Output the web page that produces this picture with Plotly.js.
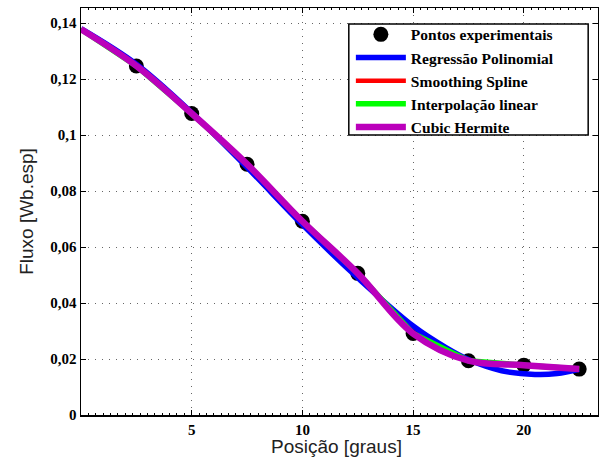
<!DOCTYPE html>
<html>
<head>
<meta charset="utf-8">
<script src="https://cdn.plot.ly/plotly-3.0.1.min.js"></script>
<style>html,body{margin:0;padding:0;background:#fff}#chart{width:599px;height:458px}</style>
</head>
<body>
<div id="chart"></div>
<script>
// Experimental points (markers shown)
var pontosX = [2.5, 5, 7.5, 10, 12.5, 15, 17.5, 20, 22.5];
var pontosY = [0.1247, 0.1077, 0.0896, 0.0692, 0.0506, 0.0291, 0.0194, 0.0178, 0.0164];

// Curve support values (curves start at 0 degrees)
var posicao = [0, 2.5, 5, 7.5, 10, 12.5, 15, 17.5, 20, 22.5];
var fluxo = [0.1378, 0.1247, 0.1077, 0.0896, 0.0692, 0.0506, 0.0291, 0.0194, 0.0178, 0.0164];

// Polynomial regression curve
var polyX = [0, 2.5, 5, 7.5, 10, 12.5, 15, 16.5, 17.5, 19, 20.5, 21.5, 22.5];
var polyY = [0.1380, 0.1253, 0.1080, 0.0885, 0.0680, 0.0490, 0.0318, 0.0240, 0.0198, 0.0158, 0.0145, 0.0148, 0.0163];

// Axis tick labels and titles
var xTickVals = [5, 10, 15, 20];
var xTickText = ["5", "10", "15", "20"];
var yTickVals = [0, 0.02, 0.04, 0.06, 0.08, 0.1, 0.12, 0.14];
var yTickText = ["0", "0,02", "0,04", "0,06", "0,08", "0,1", "0,12", "0,14"];
var xTitle = 'Posição [graus]';
var yTitle = 'Fluxo [Wb.esp]';

var traces = [
  {x: pontosX, y: pontosY, mode: 'markers', name: 'Pontos experimentais',
   marker: {color: '#000', size: 15}},
  {x: polyX, y: polyY, mode: 'lines', name: 'Regressão Polinomial',
   line: {color: '#0000ff', width: 5.5, shape: 'spline', smoothing: 1}},
  {x: posicao, y: fluxo, mode: 'lines', name: 'Smoothing Spline',
   line: {color: '#ff0000', width: 4.5, shape: 'spline', smoothing: 1.2}},
  {x: posicao, y: fluxo, mode: 'lines', name: 'Interpolação linear',
   line: {color: '#00ff00', width: 5.5}},
  {x: posicao, y: fluxo, mode: 'lines', name: 'Cubic Hermite',
   line: {color: '#bb00bb', width: 6.5, shape: 'spline', smoothing: 1}}
];

var tickFont = {family: 'Liberation Serif', size: 15, color: '#000', weight: 'bold'};
var titleFont = {family: 'Liberation Sans', size: 19, color: '#222'};

var layout = {
  width: 599, height: 458,
  margin: {l: 81, r: 1, t: 8, b: 43},
  paper_bgcolor: '#fff', plot_bgcolor: '#fff',
  showlegend: true,
  legend: {x: 0.522, y: 0.976, xanchor: 'left', yanchor: 'top',
           itemwidth: 50,
           bgcolor: 'rgba(0,0,0,0)', borderwidth: 0,
           font: {family: 'Liberation Serif', size: 15.5, color: '#000', weight: 'bold'}},
  shapes: [
    {type: 'rect', xref: 'paper', yref: 'paper', x0: 0.518, x1: 0.981, y0: 0.688, y1: 0.9607,
     fillcolor: '#fff', line: {color: '#000', width: 1.5}, layer: 'above'}
  ],
  xaxis: {range: [0, 23.35], tickvals: xTickVals, ticktext: xTickText,
          tickfont: tickFont, ticks: 'inside', ticklen: 5, tickcolor: '#000',
          showline: true, linecolor: '#000', linewidth: 1.5, mirror: 'ticks',
          showgrid: true, gridcolor: '#666', gridwidth: 1, griddash: '1px,6px',
          zeroline: false,
          minor: {dtick: 1/3, ticklen: 2, tickcolor: '#000', ticks: 'inside', showgrid: false}},
  yaxis: {range: [0, 0.1454], tickvals: yTickVals, ticktext: yTickText,
          tickfont: tickFont, ticks: 'inside', ticklen: 5, tickcolor: '#000',
          showline: true, linecolor: '#000', linewidth: 1.5, mirror: 'ticks',
          showgrid: true, gridcolor: '#666', gridwidth: 1, griddash: '1px,6px',
          zeroline: false,
          title: {text: yTitle, standoff: 11, font: titleFont}},
  annotations: [
    {text: xTitle, xref: 'paper', yref: 'paper', x: 0.494, y: -0.077,
     xanchor: 'center', yanchor: 'middle', showarrow: false, font: titleFont}
  ]
};

Plotly.newPlot('chart', traces, layout, {displayModeBar: false, staticPlot: true});
</script>
</body>
</html>
